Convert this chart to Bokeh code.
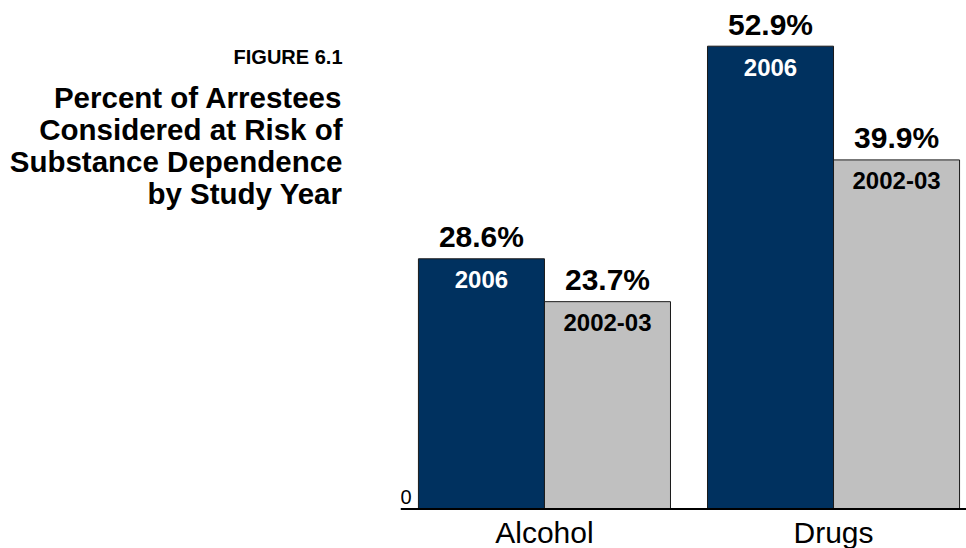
from bokeh.plotting import figure
from bokeh.models import Range1d, Span, Label, ColumnDataSource
from bokeh.layouts import row
from bokeh.core.properties import value
from bokeh.embed import file_html
from bokeh.resources import INLINE

# ---- data ----
categories = ["Alcohol", "Drugs"]
series_names = ["2006", "2002-03"]
values_2006 = [28.6, 52.9]
values_2002 = [23.7, 39.9]
title_small = "FIGURE 6.1"
title_lines = ["Percent of Arrestees", "Considered at Risk of",
               "Substance Dependence", "by Study Year"]
zero_label = "0"

FONT = "Liberation Sans"
NAVY = "#00315F"
GRAY = "#C0C0C0"
BAR_W = 0.436
H = 548

cat_pos = list(range(len(categories)))

# ---------- left panel: title block ----------
t = figure(width=400, height=H, output_backend="svg", toolbar_location=None,
           x_range=Range1d(0, 400), y_range=Range1d(0, H),
           min_border_left=0, min_border_right=0, min_border_top=0,
           min_border_bottom=0, x_axis_location=None, y_axis_location=None)
t.outline_line_color = None
t.grid.visible = False

t.add_layout(Label(x=342, y=H - 63 + 7, x_units="screen", y_units="screen",
                   text=title_small, text_font=FONT, text_font_size="20px",
                   text_font_style="bold", text_align="right",
                   text_baseline="alphabetic", text_color="black"))
for i, line in enumerate(title_lines):
    t.add_layout(Label(x=342, y=H - (107 + 32 * i) + 10,
                       x_units="screen", y_units="screen",
                       text=line, text_font=FONT, text_font_size="29.5px",
                       text_font_style="bold", text_align="right",
                       text_baseline="alphabetic", text_color="black"))

# ---------- right panel: bars ----------
p = figure(width=566, height=H, output_backend="svg", toolbar_location=None,
           x_range=Range1d(-0.498, 1.46), y_range=Range1d(-4.51, 58.12),
           min_border_left=0, min_border_right=0, min_border_top=0,
           min_border_bottom=0, x_axis_location=None, y_axis_location=None)
p.outline_line_color = None
p.grid.visible = False

src_a = ColumnDataSource(dict(
    x=[c - BAR_W / 2 for c in cat_pos], top=values_2006,
    vlab=[f"{v:.1f}%" for v in values_2006],
    ser=[series_names[0]] * len(cat_pos)))
src_b = ColumnDataSource(dict(
    x=[c + BAR_W / 2 for c in cat_pos], top=values_2002,
    vlab=[f"{v:.1f}%" for v in values_2002],
    ser=[series_names[1]] * len(cat_pos)))

p.vbar(x="x", top="top", bottom=0, width=BAR_W, source=src_a,
       fill_color=NAVY, line_color="#1a1a1a", line_width=1)
p.vbar(x="x", top="top", bottom=0, width=BAR_W, source=src_b,
       fill_color=GRAY, line_color="#1a1a1a", line_width=1)

# baseline
p.add_layout(Span(location=0, dimension="width", line_color="black", line_width=2))

# value labels above bars
for src in (src_a, src_b):
    p.text(x="x", y="top", text="vlab", source=src, text_align="center",
           text_baseline="alphabetic", y_offset=-22,
           text_font=value(FONT), text_font_size="30px", text_font_style="bold",
           text_color="black")

# series labels inside bars
p.text(x="x", y="top", text="ser", source=src_a, text_align="center",
       text_baseline="alphabetic", y_offset=21,
       text_font=value(FONT), text_font_size="24px", text_font_style="bold",
       text_color="white")
p.text(x="x", y="top", text="ser", source=src_b, text_align="center",
       text_baseline="alphabetic", y_offset=21,
       text_font=value(FONT), text_font_size="24px", text_font_style="bold",
       text_color="black")

# category labels
cat_src = ColumnDataSource(dict(x=cat_pos, y=[0] * len(cat_pos), t=categories))
p.text(x="x", y="y", text="t", source=cat_src, text_align="center",
       text_baseline="alphabetic", y_offset=23,
       text_font=value(FONT), text_font_size="30px", text_color="black")

# zero tick label
p.add_layout(Label(x=0, x_units="screen", y=0, y_units="data", y_offset=12,
                   text=zero_label, text_font=FONT, text_font_size="20px",
                   text_align="left", text_baseline="alphabetic",
                   text_color="black"))

layout = row(t, p, spacing=0)
open("out.html", "w").write(file_html(layout, INLINE))
